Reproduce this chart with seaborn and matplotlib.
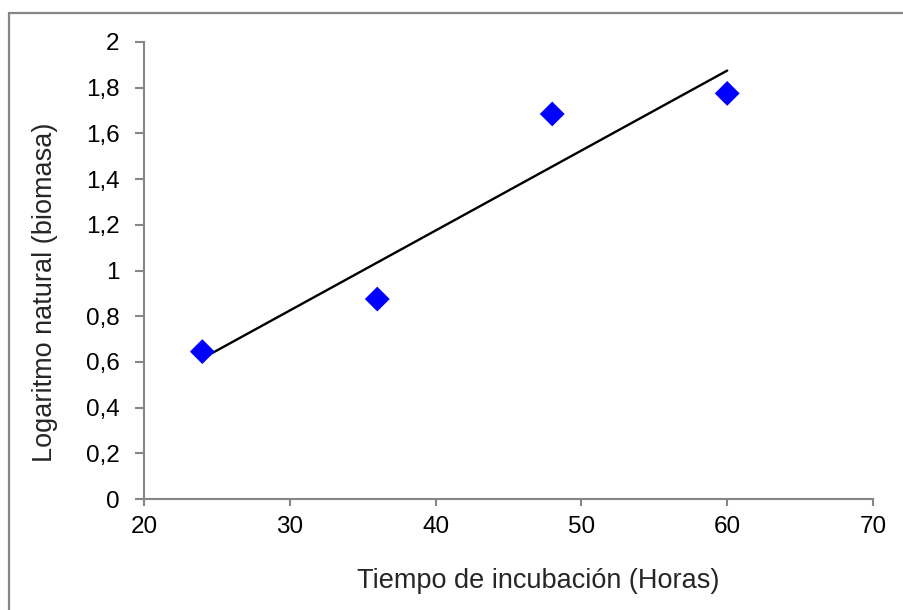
import numpy as np
import pandas as pd
import matplotlib
matplotlib.use("Agg")
import matplotlib.pyplot as plt
from matplotlib.lines import Line2D
import seaborn as sns

horas = [24, 36, 48, 60]
ln_biomasa = [0.645, 0.875, 1.685, 1.775]
x_ticks = [20, 30, 40, 50, 60, 70]
y_ticks = [0, 0.2, 0.4, 0.6, 0.8, 1.0, 1.2, 1.4, 1.6, 1.8, 2.0]

sns.set_style("white")
plt.rcParams['font.family'] = ['Liberation Sans', 'DejaVu Sans']

df = pd.DataFrame({"Horas": horas, "ln": ln_biomasa})

W, H = 904, 610
fig = plt.figure(figsize=(W / 100, H / 100), dpi=100)
ax = fig.add_axes([144 / W, 1 - 499 / H, (873 - 144) / W, (499 - 42) / H])

sns.regplot(data=df, x="Horas", y="ln", ax=ax, ci=None, scatter=False,
            truncate=True, line_kws=dict(color="black", lw=1.7))
sns.scatterplot(data=df, x="Horas", y="ln", ax=ax, marker="D", s=160,
                color="#0000FF", edgecolor="none", zorder=5)

ax.set_xlim(20, 70)
ax.set_ylim(0, 2)
ax.set_xticks(x_ticks)
ax.set_yticks(y_ticks)
ax.set_xticklabels([str(t) for t in x_ticks])
ax.set_yticklabels([("%g" % t).replace(".", ",") for t in y_ticks])

gray = "#868686"
for side in ["top", "right"]:
    ax.spines[side].set_visible(False)
for side in ["left", "bottom"]:
    ax.spines[side].set_color(gray)
    ax.spines[side].set_linewidth(1.5)
ax.tick_params(axis="both", direction="out", width=1.5, color=gray,
               labelsize=17.5, labelcolor="black", left=True, bottom=True)
ax.tick_params(axis="y", length=6.5, pad=11)
ax.tick_params(axis="x", length=5, pad=7)

ax.set_xlabel("Tiempo de incubación (Horas)", fontsize=19.5)
ax.set_ylabel("Logaritmo natural (biomasa)", fontsize=19.5)
ax.xaxis.set_label_coords(538 / W, 1 - 568 / H, transform=fig.transFigure)
ax.yaxis.set_label_coords(58 / W, 1 - 292 / H, transform=fig.transFigure)

# outer chart border
fig.add_artist(Line2D([9 / W, 1.01], [1 - 13 / H, 1 - 13 / H],
                      transform=fig.transFigure, color=gray, lw=1.6))
fig.add_artist(Line2D([9 / W, 9 / W], [1 - 13 / H, -0.01],
                      transform=fig.transFigure, color=gray, lw=1.6))

fig.savefig("out.png", dpi=100)
